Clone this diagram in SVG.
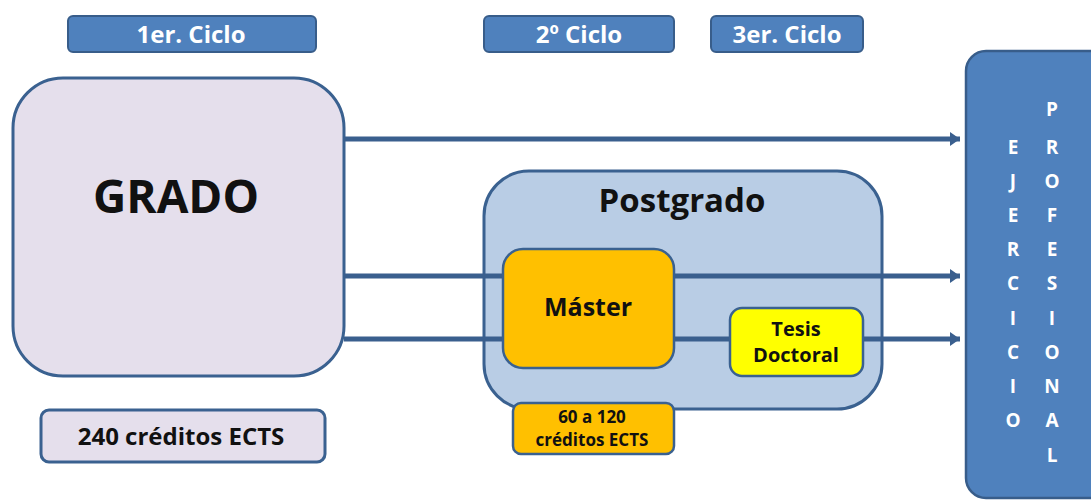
<svg xmlns="http://www.w3.org/2000/svg" width="1091" height="501" viewBox="0 0 1091 501">
  <defs>
    <marker id="arrow" viewBox="0 0 10 14" refX="10" refY="7" markerUnits="userSpaceOnUse" markerWidth="10" markerHeight="14" orient="auto">
      <polygon points="0,0 10,7 0,14" fill="#3a5f8e"/>
    </marker>
    <style>
      text { font-family: "Open Sans", "Liberation Sans", sans-serif; font-weight: bold; text-anchor: middle; }
      .hdr rect { fill: #4f81bd; stroke: #385d8a; stroke-width: 2; }
      .hdr text { fill: #ffffff; font-size: 24px; }
      .lilac { fill: #e5dfec; stroke: #3a6190; stroke-width: 3; }
      .pg { fill: #b9cde5; stroke: #3a6190; stroke-width: 3; }
      .gold { fill: #ffc000; stroke: #3a6190; stroke-width: 2.5; }
      .yellow { fill: #ffff00; stroke: #3a6190; stroke-width: 2.5; }
      .conn { stroke: #3a5f8e; stroke-width: 5; fill: none; }
      .dark { fill: #111111; }
      .vert { fill: #ffffff; font-size: 19px; }
    </style>
  </defs>

  <!-- cycle headers -->
  <g id="ciclo1" class="hdr">
    <rect x="68" y="16" width="248" height="36" rx="5"/>
    <text x="191" y="43">1er. Ciclo</text>
  </g>
  <g id="ciclo2" class="hdr">
    <rect x="484" y="16" width="190" height="36" rx="5"/>
    <text x="579" y="43">2º Ciclo</text>
  </g>
  <g id="ciclo3" class="hdr">
    <rect x="711" y="16" width="152" height="36" rx="5"/>
    <text x="787" y="43">3er. Ciclo</text>
  </g>

  <!-- first cycle -->
  <g id="grado">
    <rect class="lilac" x="13" y="78" width="331" height="298" rx="50"/>
    <text class="dark" x="176" y="213" font-size="46">GRADO</text>
  </g>
  <g id="creditos-grado">
    <rect class="lilac" x="41" y="410" width="284" height="52" rx="8" stroke-width="2.5"/>
    <text class="dark" x="181" y="445" font-size="24">240 créditos ECTS</text>
  </g>

  <!-- postgraduate container -->
  <g id="postgrado">
    <rect class="pg" x="484" y="171" width="398" height="238" rx="45"/>
    <text class="dark" x="682" y="212" font-size="33">Postgrado</text>
  </g>

  <!-- paths towards professional practice -->
  <g id="connectors">
    <line class="conn" x1="344" y1="139" x2="960" y2="139" marker-end="url(#arrow)"/>
    <line class="conn" x1="344" y1="276" x2="960" y2="276" marker-end="url(#arrow)"/>
    <line class="conn" x1="344" y1="339" x2="960" y2="339" marker-end="url(#arrow)"/>
  </g>

  <g id="master">
    <rect class="gold" x="503" y="249" width="171" height="119" rx="20"/>
    <text class="dark" x="588" y="316" font-size="25">Máster</text>
  </g>
  <g id="tesis">
    <rect class="yellow" x="730" y="308" width="133" height="68" rx="12"/>
    <text class="dark" x="796" y="336" font-size="20">Tesis</text>
    <text class="dark" x="796" y="362" font-size="20">Doctoral</text>
  </g>
  <g id="creditos-master">
    <rect class="gold" x="513" y="403" width="161" height="51" rx="8"/>
    <text class="dark" x="592" y="423" font-size="17">60 a 120</text>
    <text class="dark" x="592" y="446" font-size="17">créditos ECTS</text>
  </g>

  <!-- professional practice column -->
  <g id="ejercicio-profesional">
    <rect x="966" y="51" width="150" height="447" rx="20" fill="#4f81bd" stroke="#385d8a" stroke-width="2.5"/>
    <g class="vert">
      <text x="1013" y="154">E</text>
      <text x="1013" y="188">J</text>
      <text x="1013" y="222">E</text>
      <text x="1013" y="256">R</text>
      <text x="1013" y="290">C</text>
      <text x="1013" y="325">I</text>
      <text x="1013" y="359">C</text>
      <text x="1013" y="393">I</text>
      <text x="1013" y="427">O</text>
    </g>
    <g class="vert">
      <text x="1052" y="116">P</text>
      <text x="1052" y="154">R</text>
      <text x="1052" y="188">O</text>
      <text x="1052" y="222">F</text>
      <text x="1052" y="256">E</text>
      <text x="1052" y="290">S</text>
      <text x="1052" y="325">I</text>
      <text x="1052" y="359">O</text>
      <text x="1052" y="393">N</text>
      <text x="1052" y="427">A</text>
      <text x="1052" y="462">L</text>
    </g>
  </g>
</svg>
